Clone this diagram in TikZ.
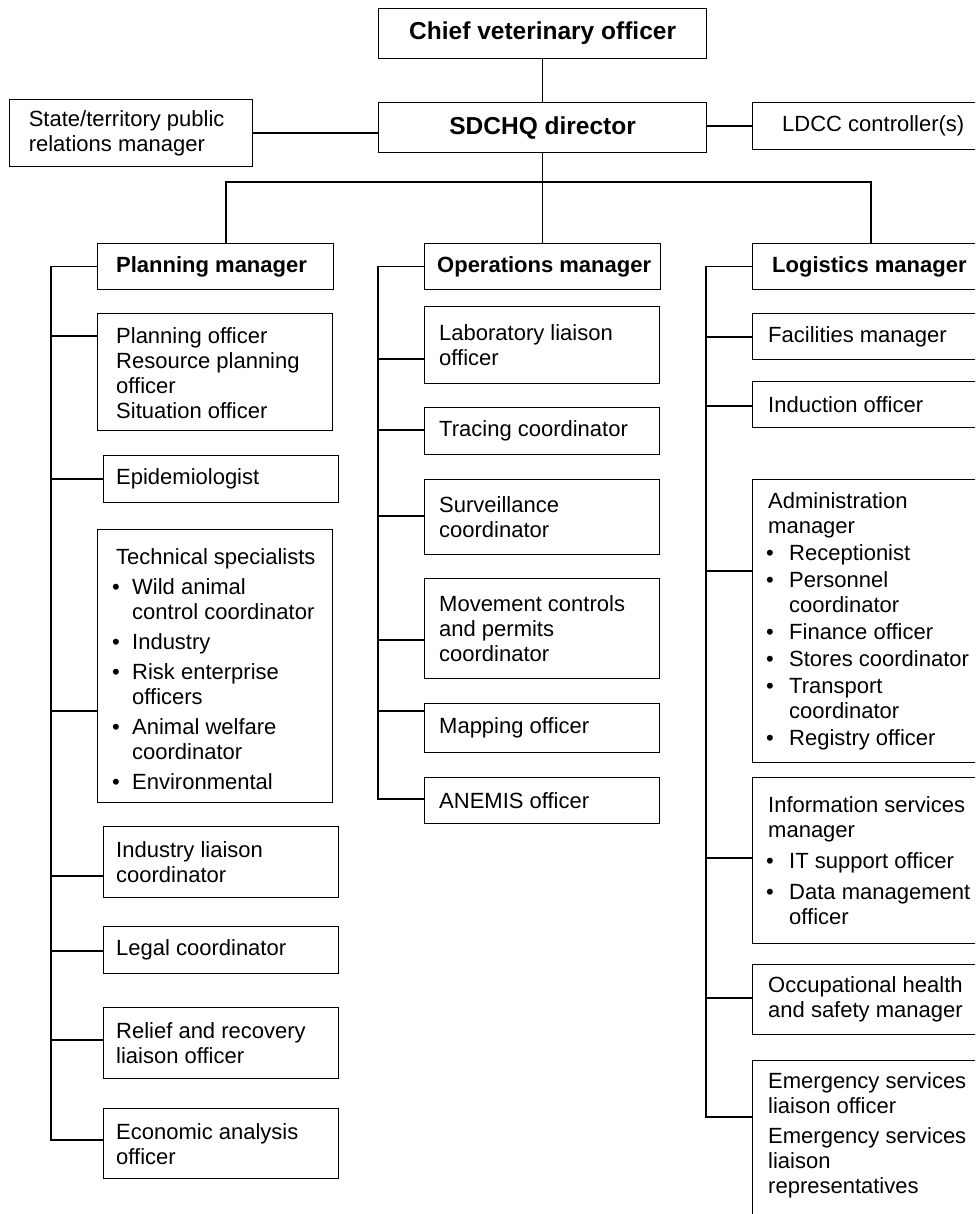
\documentclass[tikz,border=0pt]{standalone}
\usepackage{fontspec}
\setmainfont{Liberation Sans}
\newcommand{\mybulA}{\hspace*{-4pt}\makebox[20pt][l]{\textbullet}}
\newcommand{\mycontA}{\hspace*{16pt}}
\newcommand{\mybulB}{\hspace*{-2pt}\makebox[23pt][l]{\textbullet}}
\newcommand{\mycontB}{\hspace*{21pt}}
\begin{document}
\begin{tikzpicture}[x=1pt,y=-1pt,
  bx/.style={draw, line width=1.3pt, anchor=north west, inner sep=0pt},
  tx/.style={anchor=west, inner sep=0pt, align=left, font=\fontsize{22}{25}\selectfont},
  bt/.style={anchor=west, inner sep=0pt, align=left, font=\bfseries\fontsize{22}{25}\selectfont},
  ttl/.style={font=\bfseries\fontsize{24.5}{28}\selectfont},
  ln/.style={line width=1.2pt},
  thk/.style={line width=2.4pt}]
\useasboundingbox (0,0) rectangle (975,1214);
\clip (0,0) rectangle (975,1214);
\fill[white] (0,0) rectangle (975,1214);

% top level
\node[bx, ttl, minimum width=328, minimum height=50] (chief) at (378,8) {Chief veterinary officer};
\node[bx, ttl, minimum width=328, minimum height=50] (sd) at (378,102) {SDCHQ director};
\node[bx, minimum width=243, minimum height=67] (state) at (9,99) {};
\node[tx] (statet) at ([xshift=19.6pt]state.west) {State/territory public\\relations manager};
\node[bx, minimum width=260, minimum height=47] (ldcc) at (752,102) {};
\node[tx] (ldcct) at ([xshift=30pt]ldcc.west) {LDCC controller(s)};

% managers
\node[bx, minimum width=236, minimum height=46] (pm) at (97,243) {};
\node[bt] (pmt) at ([xshift=19pt]pm.west) {Planning manager};
\node[bx, minimum width=236, minimum height=46] (om) at (424,243) {};
\node[bt] (omt) at ([xshift=13pt]om.west) {Operations manager};
\node[bx, minimum width=260, minimum height=46] (lm) at (752,243) {};
\node[bt] (lmt) at ([xshift=20pt]lm.west) {Logistics manager};

% planning column
\node[bx, minimum width=235, minimum height=117] (p1) at (97,313) {};
\node[tx] (p1t) at ([xshift=19pt,yshift=-1pt]p1.west) {Planning officer\\Resource planning\\officer\\Situation officer};
\node[bx, minimum width=235, minimum height=47] (p2) at (103,455) {};
\node[tx] (p2t) at ([xshift=13pt]p2.west) {Epidemiologist};
\node[bx, minimum width=235, minimum height=273] (p3) at (97,529) {};
\node[tx] (p3t) at ([xshift=19pt,yshift=-3pt]p3.west) {Technical specialists\\[5pt]\mybulA Wild animal\\\mycontA control coordinator\\[5pt]\mybulA Industry\\[5pt]\mybulA Risk enterprise\\\mycontA officers\\[5pt]\mybulA Animal welfare\\\mycontA coordinator\\[5pt]\mybulA Environmental};
\node[bx, minimum width=235, minimum height=71] (p4) at (103,826) {};
\node[tx] (p4t) at ([xshift=13pt]p4.west) {Industry liaison\\coordinator};
\node[bx, minimum width=235, minimum height=47] (p5) at (103,926) {};
\node[tx] (p5t) at ([xshift=13pt]p5.west) {Legal coordinator};
\node[bx, minimum width=235, minimum height=71] (p6) at (103,1007) {};
\node[tx] (p6t) at ([xshift=13pt]p6.west) {Relief and recovery\\liaison officer};
\node[bx, minimum width=235, minimum height=70] (p7) at (103,1108) {};
\node[tx] (p7t) at ([xshift=13pt]p7.west) {Economic analysis\\officer};

% operations column
\node[bx, minimum width=235, minimum height=77] (o1) at (424,306) {};
\node[tx] (o1t) at ([xshift=15pt]o1.west) {Laboratory liaison\\officer};
\node[bx, minimum width=235, minimum height=47] (o2) at (424,407) {};
\node[tx] (o2t) at ([xshift=15pt]o2.west) {Tracing coordinator};
\node[bx, minimum width=235, minimum height=75] (o3) at (424,479) {};
\node[tx] (o3t) at ([xshift=15pt]o3.west) {Surveillance\\coordinator};
\node[bx, minimum width=235, minimum height=100] (o4) at (424,578) {};
\node[tx] (o4t) at ([xshift=15pt]o4.west) {Movement controls\\and permits\\coordinator};
\node[bx, minimum width=235, minimum height=49] (o5) at (424,703) {};
\node[tx] (o5t) at ([xshift=15pt]o5.west) {Mapping officer};
\node[bx, minimum width=235, minimum height=46] (o6) at (424,777) {};
\node[tx] (o6t) at ([xshift=15pt]o6.west) {ANEMIS officer};

% logistics column
\node[bx, minimum width=260, minimum height=46] (l1) at (752,313) {};
\node[tx] (l1t) at ([xshift=16pt]l1.west) {Facilities manager};
\node[bx, minimum width=260, minimum height=46] (l2) at (752,381) {};
\node[tx] (l2t) at ([xshift=16pt]l2.west) {Induction officer};
\node[bx, minimum width=260, minimum height=283] (l3) at (752,479) {};
\node[tx] (l3t) at ([xshift=16pt]l3.west) {Administration\\manager\\[2pt]\mybulB Receptionist\\[2pt]\mybulB Personnel\\\mycontB coordinator\\[2pt]\mybulB Finance officer\\[2pt]\mybulB Stores coordinator\\[2pt]\mybulB Transport\\\mycontB coordinator\\[2pt]\mybulB Registry officer};
\node[bx, minimum width=260, minimum height=166] (l4) at (752,777) {};
\node[tx] (l4t) at ([xshift=16pt]l4.west) {Information services\\manager\\[6pt]\mybulB IT support officer\\[6pt]\mybulB Data management\\\mycontB officer};
\node[bx, minimum width=260, minimum height=70] (l5) at (752,964) {};
\node[tx] (l5t) at ([xshift=16pt]l5.west) {Occupational health\\and safety manager};
\node[bx, minimum width=260, minimum height=175] (l6) at (752,1060) {};
\node[tx] (l6t) at ([xshift=16pt,yshift=-75pt]l6.north west) {Emergency services\\liaison officer\\[5pt]Emergency services\\liaison\\representatives};

% top connectors
\draw[ln] (chief) -- (sd);
\draw[thk] (state.east |- 0,133) -- (sd.west |- 0,133);
\draw[ln] (sd.east |- 0,126) -- (ldcc.west |- 0,126);
\coordinate (busL) at (226,182);
\coordinate (busR) at (871,182);
\draw[ln] (sd.south) -- (sd.south |- om.north);
\draw[ln] (pm.north -| busL) -- (busL) -- (busR) -- (lm.north -| busR);

% spines
\coordinate (pEnd) at (51,1140);
\draw[ln] (pm.west) -| (pEnd) -- (p7.west |- pEnd);
\foreach \n/\yy in {p1/336,p2/479,p3/711,p4/876,p5/951,p6/1040}
  \draw[ln] (pEnd |- 0,\yy) -- (\n.west |- 0,\yy);
\coordinate (oEnd) at (378,799);
\draw[ln] (om.west) -| (oEnd) -- (o6.west |- oEnd);
\foreach \n/\yy in {o1/359,o2/430,o3/516,o4/640,o5/711}
  \draw[ln] (oEnd |- 0,\yy) -- (\n.west |- 0,\yy);
\coordinate (lEnd) at (706,1117);
\draw[ln] (lm.west) -| (lEnd) -- (l6.west |- lEnd);
\foreach \n/\yy in {l1/337,l2/406,l3/571,l4/858,l5/998}
  \draw[ln] (lEnd |- 0,\yy) -- (\n.west |- 0,\yy);
\end{tikzpicture}
\end{document}
